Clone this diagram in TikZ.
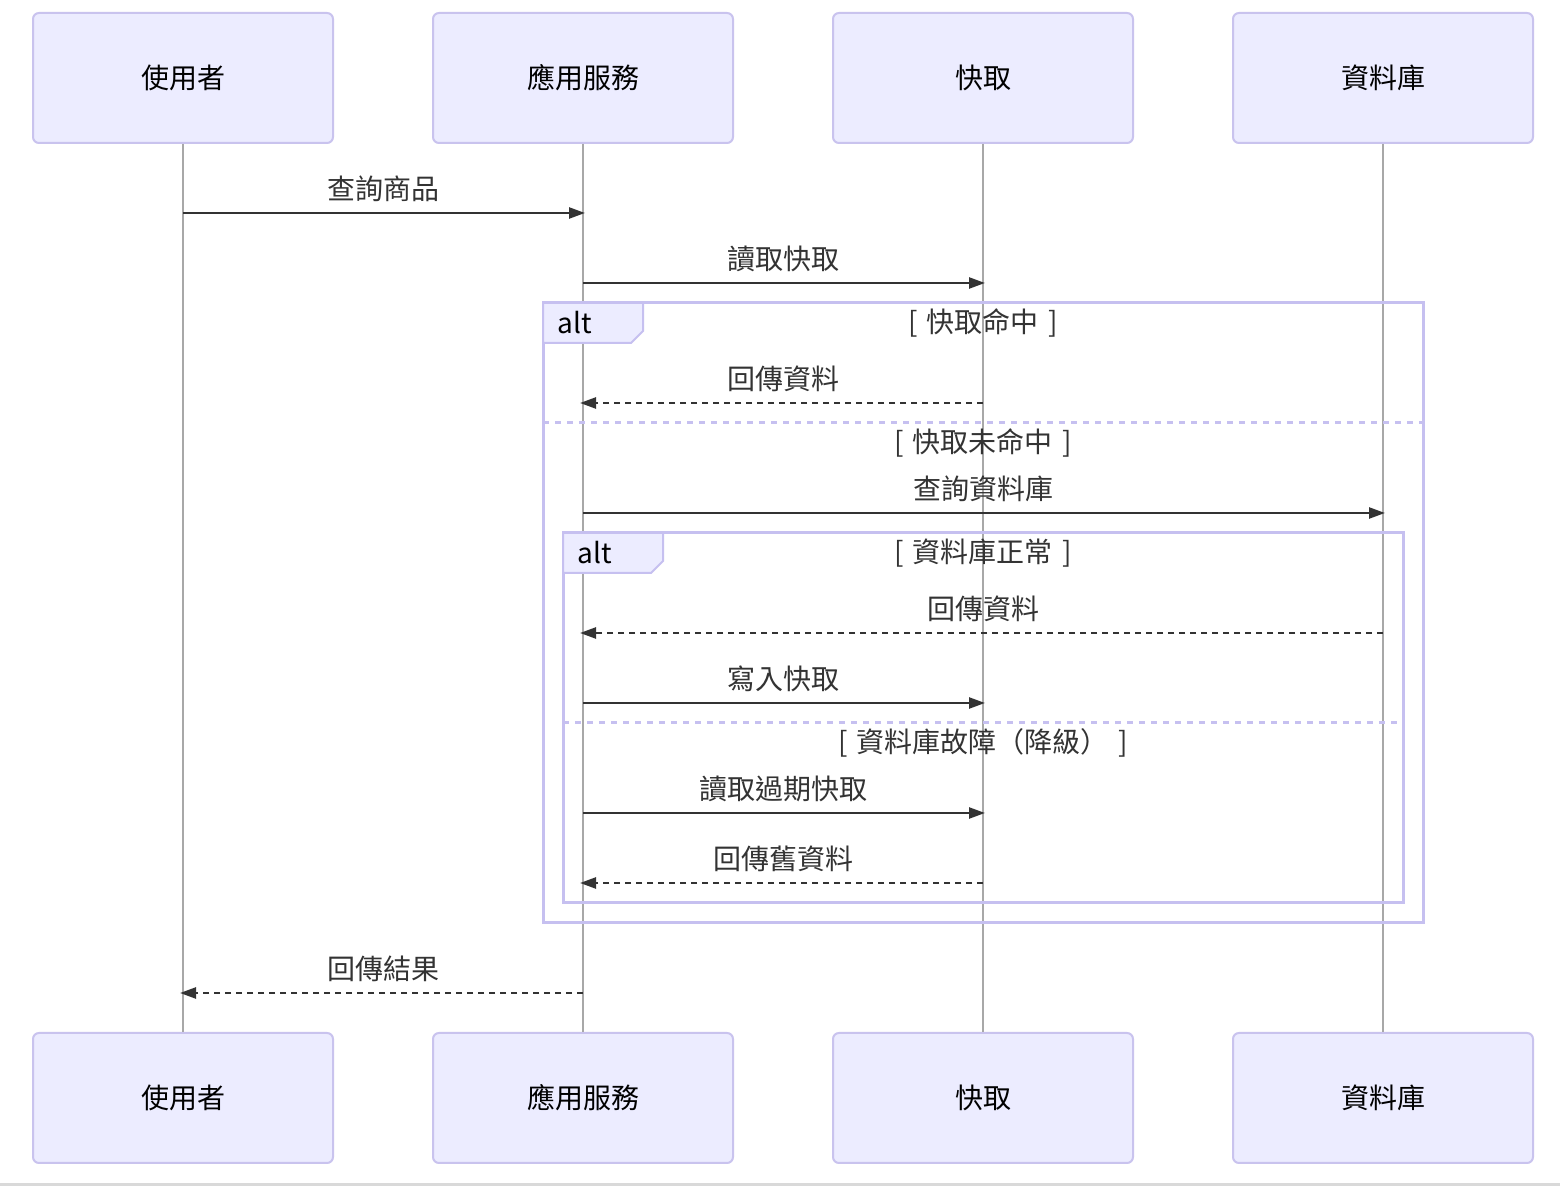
\documentclass[tikz,border=0pt]{standalone}
\usepackage{fontspec}
\setmainfont{Noto Sans CJK TC}
\usetikzlibrary{arrows.meta}
\definecolor{actfill}{HTML}{ECECFF}
\definecolor{actborder}{HTML}{C9C3EE}
\definecolor{altborder}{HTML}{C6C0F0}
\definecolor{lifeline}{HTML}{A8A8A8}
\definecolor{msgcol}{HTML}{333333}
\begin{document}
\begin{tikzpicture}[x=0.5pt,y=-0.5pt,
  actor/.style={draw=actborder,fill=actfill,line width=1pt,rounded corners=3pt,
    minimum width=150pt,minimum height=65pt,inner sep=0pt,
    font=\fontsize{14}{16}\selectfont,text=black},
  lifel/.style={draw=lifeline,line width=0.7pt},
  msg/.style={draw=msgcol,line width=1.2pt,-{Triangle[length=8pt,width=5.5pt]}},
  reply/.style={msg,dash pattern=on 3pt off 2.5pt},
  msglabel/.style={font=\fontsize{14}{16}\selectfont,text=msgcol,inner sep=0pt},
  altframe/.style={draw=altborder,line width=1.5pt},
  altsep/.style={draw=altborder,line width=1.5pt,dash pattern=on 3pt off 3pt},
  altlabel/.style={draw=altborder,fill=actfill,line width=1pt},
  condlabel/.style={font=\fontsize{14}{16}\selectfont,text=msgcol,inner sep=0pt},
  alttext/.style={font=\fontsize{14}{16}\selectfont,text=black,inner sep=0pt,anchor=west}
]
\useasboundingbox (0,0) rectangle (1560,1186);
\fill[white] (0,0) rectangle (1560,1186);
\fill[black!15] (0,1183) rectangle (1560,1186);

% actors
\node[actor] (uT) at (183,78) {使用者};
\node[actor] (aT) at (583,78) {應用服務};
\node[actor] (cT) at (983,78) {快取};
\node[actor] (dT) at (1383,78) {資料庫};
\node[actor] (uB) at (183,1098) {使用者};
\node[actor] (aB) at (583,1098) {應用服務};
\node[actor] (cB) at (983,1098) {快取};
\node[actor] (dB) at (1383,1098) {資料庫};

% lifelines
\draw[lifel] (uT.south) -- (uB.north);
\draw[lifel] (aT.south) -- (aB.north);
\draw[lifel] (cT.south) -- (cB.north);
\draw[lifel] (dT.south) -- (dB.north);

% alt frames
\draw[altframe] (543,303) rectangle (1423,923);
\draw[altlabel] (543,303) -- (643,303) -- (643,331) -- (631,343) -- (543,343) -- cycle;
\node[alttext] (alt1) at (557,323) {alt};
\node[condlabel] (c1) at (983,323) {[\,\,快取命中\,\,]};
\draw[altsep] (543,423) -- (1423,423);
\node[condlabel] (c2) at (983,443) {[\,\,快取未命中\,\,]};

\draw[altframe] (563,533) rectangle (1403,903);
\draw[altlabel] (563,533) -- (663,533) -- (663,561) -- (651,573) -- (563,573) -- cycle;
\node[alttext] (alt2) at (577,553) {alt};
\node[condlabel] (c3) at (983,553) {[\,\,資料庫正常\,\,]};
\draw[altsep] (563,723) -- (1403,723);
\node[condlabel] (c4) at (983,743) {[\,\,資料庫故障（降級）\,\,]};

% message anchor points
\coordinate (u1) at (183,213); \coordinate (a1) at (585,213);
\coordinate (a2) at (583,283); \coordinate (c2p) at (985,283);
\coordinate (c3p) at (983,403); \coordinate (a3) at (580,403);
\coordinate (a4) at (583,513); \coordinate (d4) at (1385,513);
\coordinate (d5) at (1383,633); \coordinate (a5) at (580,633);
\coordinate (a6) at (583,703); \coordinate (c6) at (985,703);
\coordinate (a7) at (583,813); \coordinate (c7) at (985,813);
\coordinate (c8) at (983,883); \coordinate (a8) at (580,883);
\coordinate (a9) at (583,993); \coordinate (u9) at (180,993);

\draw[msg] (u1) -- (a1);
\node[msglabel] (l1) at (383,189) {查詢商品};
\draw[msg] (a2) -- (c2p);
\node[msglabel] (l2) at (783,259) {讀取快取};
\draw[reply] (c3p) -- (a3);
\node[msglabel] (l3) at (783,379) {回傳資料};
\draw[msg] (a4) -- (d4);
\node[msglabel] (l4) at (983,489) {查詢資料庫};
\draw[reply] (d5) -- (a5);
\node[msglabel] (l5) at (983,609) {回傳資料};
\draw[msg] (a6) -- (c6);
\node[msglabel] (l6) at (783,679) {寫入快取};
\draw[msg] (a7) -- (c7);
\node[msglabel] (l7) at (783,789) {讀取過期快取};
\draw[reply] (c8) -- (a8);
\node[msglabel] (l8) at (783,859) {回傳舊資料};
\draw[reply] (a9) -- (u9);
\node[msglabel] (l9) at (383,969) {回傳結果};
\end{tikzpicture}
\end{document}
